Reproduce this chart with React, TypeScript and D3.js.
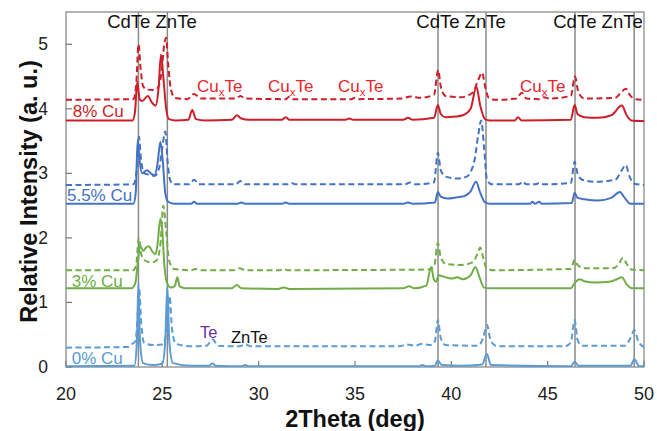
import React from "react";
import * as d3 from "d3";

type P = [number, number];

// ---- data (2θ in degrees, relative intensity) ----
const cu0Solid: P[] = [[20,0.01],[23.55,0.02],[23.68,0.4],[23.76,1.3],[23.84,0.4],[24.0,0.06],[24.5,0.03],[25.0,0.05],[25.15,0.4],[25.26,1.25],[25.36,0.4],[25.55,0.06],[26.5,0.02],[27.45,0.02],[27.6,0.06],[27.75,0.02],[29.1,0.01],[29.3,0.03],[29.5,0.01],[38.3,0.01],[38.5,0.03],[38.7,0.01],[39.15,0.02],[39.3,0.1],[39.5,0.03],[40.5,0.02],[41.6,0.04],[41.85,0.2],[42.05,0.03],[46.2,0.01],[46.4,0.08],[46.6,0.02],[49.3,0.02],[49.5,0.12],[49.75,0.01],[50,0.01]];
const cu0Dash: P[] = [[20,0.3],[23.2,0.31],[23.4,0.35],[23.6,0.4],[23.72,0.8],[23.8,1.2],[23.9,0.7],[24.05,0.38],[24.5,0.34],[25.0,0.35],[25.25,0.6],[25.38,1.1],[25.5,0.6],[25.7,0.36],[26.5,0.32],[27.3,0.33],[27.6,0.43],[27.9,0.33],[29.0,0.32],[29.3,0.35],[29.6,0.32],[37.3,0.32],[37.7,0.35],[38.1,0.33],[38.5,0.36],[38.9,0.34],[39.15,0.4],[39.3,0.73],[39.45,0.45],[39.7,0.34],[41.4,0.33],[41.65,0.45],[41.85,0.65],[42.05,0.4],[42.4,0.32],[45.9,0.32],[46.2,0.38],[46.4,0.73],[46.55,0.42],[46.8,0.33],[49.0,0.33],[49.3,0.45],[49.5,0.57],[49.7,0.4],[50,0.31]];
const cu3Solid: P[] = [[20,1.22],[23.4,1.22],[23.6,1.3],[23.72,1.6],[23.85,1.88],[24.0,1.8],[24.15,1.85],[24.3,1.87],[24.5,1.78],[24.65,1.75],[24.75,1.9],[24.9,2.3],[25.0,2.1],[25.1,1.6],[25.25,1.3],[25.45,1.23],[25.65,1.26],[25.78,1.39],[25.9,1.25],[26.2,1.22],[28.6,1.22],[28.87,1.27],[29.1,1.22],[31.0,1.21],[31.3,1.23],[31.6,1.21],[37.5,1.22],[37.8,1.25],[38.1,1.22],[38.7,1.26],[38.95,1.55],[39.1,1.35],[39.2,1.32],[39.35,1.42],[39.6,1.4],[40.0,1.37],[40.3,1.39],[40.6,1.36],[41.0,1.42],[41.25,1.55],[41.45,1.4],[41.7,1.23],[42.0,1.22],[46.2,1.22],[46.4,1.3],[46.65,1.36],[46.9,1.33],[47.5,1.31],[48.2,1.32],[48.6,1.36],[48.85,1.39],[49.1,1.28],[49.4,1.22],[50,1.22]];
const cu3Dash: P[] = [[20,1.5],[23.5,1.5],[23.65,1.6],[23.78,2.0],[23.9,1.75],[24.1,1.65],[24.4,1.62],[24.7,1.65],[24.9,1.9],[25.05,2.5],[25.2,2.1],[25.35,1.65],[25.6,1.52],[26.5,1.5],[26.7,1.52],[27,1.5],[28.7,1.5],[29.0,1.53],[29.3,1.5],[31.1,1.5],[31.3,1.52],[31.5,1.5],[38.8,1.51],[39.1,1.55],[39.3,1.92],[39.45,1.7],[39.7,1.6],[40.5,1.58],[41.1,1.62],[41.35,1.75],[41.5,1.85],[41.65,1.7],[41.85,1.52],[42.2,1.5],[46.2,1.52],[46.4,1.66],[46.55,1.58],[46.9,1.53],[48.4,1.53],[48.7,1.6],[48.9,1.69],[49.1,1.6],[49.35,1.51],[50,1.5]];
const cu55Solid: P[] = [[20,2.53],[23.5,2.53],[23.62,2.7],[23.72,3.52],[23.82,3.2],[23.95,3.0],[24.2,3.05],[24.4,3.0],[24.6,2.97],[24.75,3.15],[24.9,3.49],[25.02,3.2],[25.15,2.7],[25.3,2.56],[25.6,2.53],[26.5,2.53],[26.65,2.56],[26.8,2.53],[28.9,2.53],[29.1,2.55],[29.3,2.53],[31.2,2.53],[31.4,2.55],[31.6,2.53],[37.5,2.53],[37.75,2.55],[38.0,2.53],[39.15,2.55],[39.3,2.71],[39.45,2.64],[39.8,2.61],[40.3,2.63],[40.7,2.65],[41.0,2.72],[41.28,2.87],[41.5,2.7],[41.75,2.55],[42.0,2.53],[44.1,2.53],[44.2,2.56],[44.35,2.53],[44.55,2.56],[44.7,2.53],[46.25,2.54],[46.4,2.7],[46.55,2.62],[46.9,2.6],[47.6,2.58],[48.3,2.62],[48.75,2.71],[49.0,2.62],[49.3,2.53],[50,2.53]];
const cu55Dash: P[] = [[20,2.82],[23.5,2.83],[23.65,3.0],[23.78,3.57],[23.9,3.2],[24.05,3.0],[24.3,2.98],[24.6,2.96],[24.85,3.1],[25.0,3.4],[25.15,3.65],[25.27,3.2],[25.4,2.9],[25.6,2.83],[26.4,2.83],[26.65,2.9],[26.9,2.83],[28.8,2.83],[29.05,2.88],[29.3,2.83],[31.5,2.83],[31.7,2.85],[31.9,2.83],[37.6,2.83],[37.85,2.86],[38.1,2.83],[39.1,2.86],[39.3,3.32],[39.45,3.05],[39.7,2.95],[40.3,2.92],[40.8,2.95],[41.2,3.2],[41.4,3.6],[41.55,3.82],[41.7,3.4],[41.85,2.9],[42.1,2.83],[43.5,2.83],[43.7,2.87],[43.9,2.83],[44.4,2.83],[44.55,2.85],[44.7,2.83],[46.2,2.85],[46.4,3.18],[46.55,3.0],[46.8,2.9],[47.5,2.87],[48.5,2.9],[48.85,3.05],[49.05,3.13],[49.25,2.95],[49.5,2.84],[50,2.82]];
const cu8Solid: P[] = [[20,3.82],[23.45,3.82],[23.58,3.95],[23.7,4.42],[23.82,4.15],[23.95,4.12],[24.25,4.2],[24.45,4.1],[24.65,4.05],[24.8,4.3],[24.93,4.84],[25.05,4.5],[25.2,4.0],[25.35,3.84],[25.7,3.82],[26.35,3.83],[26.55,3.98],[26.75,3.84],[27.2,3.82],[28.6,3.83],[28.87,3.9],[29.1,3.85],[29.5,3.83],[31.2,3.83],[31.4,3.87],[31.6,3.83],[34.5,3.83],[34.7,3.85],[34.9,3.83],[37.5,3.83],[37.75,3.86],[38.0,3.83],[39.1,3.86],[39.3,4.06],[39.45,3.92],[39.7,3.87],[40.2,3.88],[40.6,3.9],[41.0,4.0],[41.3,4.34],[41.5,4.05],[41.75,3.84],[42.0,3.82],[43.3,3.82],[43.46,3.87],[43.65,3.82],[46.2,3.83],[46.4,4.06],[46.55,3.92],[46.9,3.87],[47.6,3.86],[48.3,3.9],[48.85,4.05],[49.1,3.9],[49.35,3.82],[50,3.81]];
const cu8Dash: P[] = [[20,4.14],[23.5,4.15],[23.65,4.4],[23.76,5.0],[23.88,4.6],[24.0,4.35],[24.2,4.3],[24.5,4.29],[24.75,4.32],[24.95,4.55],[25.1,5.0],[25.2,5.1],[25.3,4.7],[25.45,4.3],[25.65,4.17],[26.3,4.15],[26.65,4.23],[27.0,4.16],[28.8,4.16],[29.05,4.2],[29.3,4.16],[31.4,4.15],[31.6,4.19],[31.8,4.15],[34.8,4.15],[35.0,4.17],[35.2,4.15],[37.4,4.16],[37.9,4.19],[38.4,4.17],[39.1,4.22],[39.32,4.6],[39.45,4.35],[39.7,4.2],[40.5,4.18],[41.1,4.25],[41.4,4.45],[41.6,4.56],[41.75,4.35],[41.95,4.17],[42.3,4.14],[43.4,4.16],[43.65,4.25],[43.9,4.16],[44.6,4.15],[44.8,4.18],[45.1,4.16],[46.2,4.2],[46.42,4.5],[46.6,4.25],[46.9,4.16],[48.5,4.17],[48.8,4.25],[49.05,4.31],[49.3,4.2],[49.55,4.15],[50,4.14]];

const refLines = [23.76, 25.26, 39.31, 41.8, 46.42, 49.49];
const xTicks = [20, 25, 30, 35, 40, 45, 50];
const yTicks = [0, 1, 2, 3, 4, 5];
const topLabels = [{ x: 22.14, t: "CdTe ZnTe" }, { x: 38.18, t: "CdTe ZnTe" }, { x: 45.29, t: "CdTe ZnTe" }];
const cuxteLabels = [26.8, 30.48, 34.12, 43.56];

const RED = "#CC1F29";
const BLUE = "#4472C4";
const GREEN = "#70AD47";
const LBLUE = "#5B9BD5";

const series = [
  { d: cu0Solid, c: LBLUE, dash: false },
  { d: cu0Dash, c: LBLUE, dash: true },
  { d: cu3Solid, c: GREEN, dash: false },
  { d: cu3Dash, c: GREEN, dash: true },
  { d: cu55Solid, c: BLUE, dash: false },
  { d: cu55Dash, c: BLUE, dash: true },
  { d: cu8Solid, c: RED, dash: false },
  { d: cu8Dash, c: RED, dash: true },
];

const seriesLabels = [
  { t: "8% Cu", c: RED, x: 20.35, y: 3.88 },
  { t: "5.5% Cu", c: BLUE, x: 20.05, y: 2.57 },
  { t: "3% Cu", c: GREEN, x: 20.3, y: 1.24 },
  { t: "0% Cu", c: LBLUE, x: 20.3, y: 0.05 },
];

export default function App() {
  const W = 657, H = 431;
  const L = 66, R = 644, T = 12, B = 367;
  const x = d3.scaleLinear().domain([20, 50]).range([L, R]);
  const y = d3.scaleLinear().domain([0, 5.5]).range([B, T]);
  const line = d3.line<P>().x((p) => x(p[0])).y((p) => y(p[1])).curve(d3.curveMonotoneX);
  const font = "Arial, 'Liberation Sans', sans-serif";
  return (
    <svg width={W} height={H} style={{ position: "absolute", left: 0, top: 0, background: "#fff" }} fontFamily={font}>
      <defs>
        <clipPath id="plot"><rect x={L} y={T} width={R - L} height={B - T} /></clipPath>
      </defs>
      {/* frame */}
      <rect x={L} y={T} width={R - L} height={B - T} fill="none" stroke="#8a8a8a" strokeWidth={1.3} />
      {/* ticks */}
      {xTicks.map((t) => (
        <g key={"xt" + t}>
          <line x1={x(t)} x2={x(t)} y1={B} y2={B - 6} stroke="#777" strokeWidth={1.2} />
          <text x={x(t)} y={400} textAnchor="middle" fontSize={18} fill="#222">{t}</text>
        </g>
      ))}
      {yTicks.map((t) => (
        <g key={"yt" + t}>
          <line x1={L} x2={L + 6} y1={y(t)} y2={y(t)} stroke="#777" strokeWidth={1.2} />
          <text x={48} y={y(t) + 6} textAnchor="end" fontSize={17.5} fill="#222">{t}</text>
        </g>
      ))}
      {/* reference lines */}
      {refLines.map((r) => (
        <line key={"r" + r} x1={x(r)} x2={x(r)} y1={T} y2={B} stroke="#8a8a8a" strokeWidth={1.5} />
      ))}
      {/* data */}
      <g clipPath="url(#plot)">
        {series.map((s, i) => (
          <path key={i} d={line(s.d) || ""} fill="none" stroke={s.c} strokeWidth={2}
            strokeDasharray={s.dash ? "6,3.5" : undefined} strokeLinejoin="round" />
        ))}
      </g>
      {/* annotations */}
      {topLabels.map((l, i) => (
        <text key={"tl" + i} x={x(l.x)} y={28} fontSize={18.5} fill="#111">{l.t}</text>
      ))}
      {cuxteLabels.map((cx, i) => (
        <text key={"cx" + i} x={x(cx)} y={92} fontSize={17} fill="#E8262E">
          Cu<tspan dy={4} fontSize={11.5}>x</tspan><tspan dy={-4}>Te</tspan>
        </text>
      ))}
      <text x={x(26.95)} y={338} fontSize={16.5} fill="#7030A0">Te</text>
      <text x={x(28.56)} y={343} fontSize={16.5} fill="#111">ZnTe</text>
      {seriesLabels.map((l) => (
        <text key={l.t} x={x(l.x)} y={y(l.y)} fontSize={17} fill={l.c}>{l.t}</text>
      ))}
      {/* axis titles */}
      <text x={(L + R) / 2} y={427} textAnchor="middle" fontSize={23.5} fontWeight="bold" fill="#111">2Theta (deg)</text>
      <text transform={`translate(37,${(T + B) / 2 + 2}) rotate(-90)`} textAnchor="middle" fontSize={23.5} fontWeight="bold" fill="#111">Relative Intensity (a. u.)</text>
    </svg>
  );
}
